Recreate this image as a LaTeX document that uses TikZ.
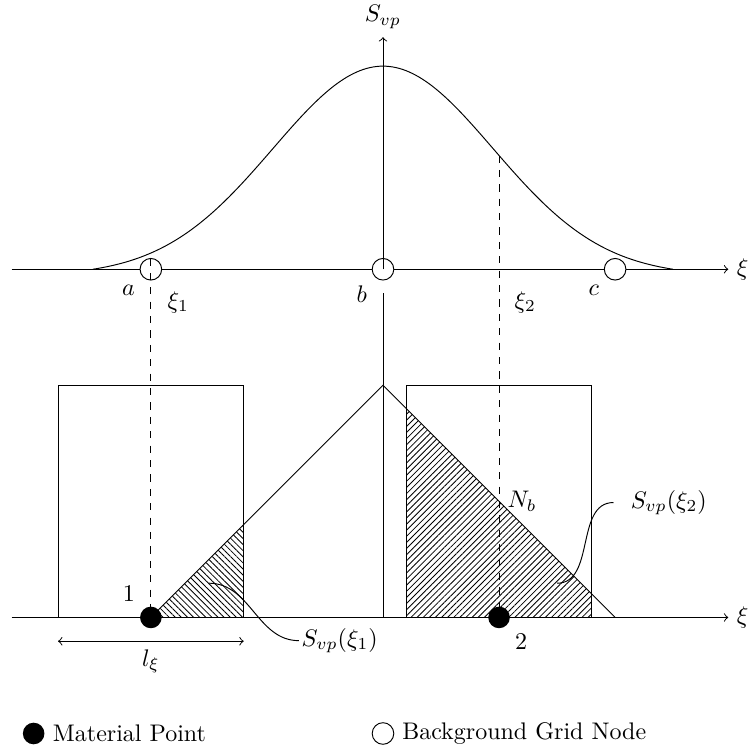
\documentclass[tikz,border=0pt]{standalone}
\usepackage{amsmath}
\usepackage{tikz}
\usetikzlibrary{arrows.meta,positioning,patterns.meta}
\tikzset{
    gridnode/.style={draw, circle, fill=white, minimum size=9pt,
    inner sep=0pt, outer sep=0pt},
    matpoint/.style={circle, fill=black, minimum size=9pt,
    inner sep=0pt, outer sep=0pt},
    leaderlbl/.style={anchor=west, inner sep=1pt},
    hatchleft/.style={pattern={Lines[angle=-45, distance=1.8pt, line width=0.35pt]}},
    hatchright/.style={pattern={Lines[angle=45, distance=1.8pt, line width=0.35pt]}},
}

\begin{document}
\begin{tikzpicture}[
            x=0.85cm, y=0.85cm,
            >=to,
            node distance=0pt
        ]
            \useasboundingbox (-6.60,-2.24) rectangle (6.29,10.64);
            % hatched areas
            \fill[hatchleft] (-4,0) -- (-2.4,1.6) -- (-2.4,0) -- cycle;
            \fill[hatchright] (0.4,0) -- (0.4,3.6) -- (3.6,0.4) -- (3.6,0) -- cycle;
            % axes
            \coordinate (tl) at (-6.4,6);
            \coordinate (tr) at (5.95,6);
            \coordinate (bl) at (-6.4,0);
            \coordinate (br) at (5.95,0);
            \draw[->] (tl) -- (tr);
            \draw[->] (bl) -- (br);
            \node[right=of tr] {$\xi$};
            \node[right=of br] {$\xi$};
            % shape function
            \draw plot[domain=-5:5, samples=90, smooth]
                (\x, {6+3.5*(exp(-((\x)*(\x))/7.2)-0.031)/0.969});
            % grid nodes
            \node[gridnode] (na) at (-4,6) {};
            \node[gridnode] (nb) at (0,6) {};
            \node[gridnode] (nc) at (4,6) {};
            \node[below left=of na] {$a$};
            \node[below left=of nb] {$b$};
            \node[below left=of nc] {$c$};
            \coordinate (svp) at (0,10);
            \draw[->] (nb.center) -- (svp);
            \node[above=of svp] {$S_{vp}$};
            % cells
            \draw (-5.6,0) -- (-5.6,4) -- (-2.4,4) -- (-2.4,0);
            \draw (0.4,0) -- (0.4,4) -- (3.6,4) -- (3.6,0);
            % hat function
            \coordinate (apex) at (0,4);
            \coordinate (hend) at (4,0);
            \coordinate (vtop) at (0,5.59);
            \coordinate (vbot) at (0,0);
            \draw (vtop) -- (vbot);
            \node[matpoint] (m1) at (-4,0) {};
            \node[matpoint] (m2) at (2,0) {};
            \node[above left=of m1] {1};
            \node[below right=of m2] {2};
            \draw (m1) -- (apex) -- (hend);
            % particle positions
            \coordinate (c2) at (2,7.96);
            \draw[dashed] (na.north) -- (m1);
            \draw[dashed] (c2) -- (m2);
            \node at (-3.53,5.43) {$\xi_1$};
            \node at (2.45,5.43) {$\xi_2$};
            \coordinate (nbpt) at (2,2);
            \node[right=of nbpt] {$N_b$};
            % leaders
            \coordinate (h1) at (-3.0,0.59);
            \coordinate (h2) at (3.0,0.59);
            \node[leaderlbl] (s1) at (-1.45,-0.40) {$S_{vp}(\xi_1)$};
            \node[leaderlbl] (s2) at (4.22,1.98) {$S_{vp}(\xi_2)$};
            \draw (h1) to[out=0,in=180] (s1.west);
            \draw (h2) to[out=0,in=180] ([xshift=-6pt]s2.west);
            % cell length
            \coordinate (ll) at (-5.6,-0.41);
            \coordinate (lr) at (-2.4,-0.41);
            \draw[<->] (ll) -- node[below] {$l_\xi$} (lr);
            % legend
            \node[matpoint] (lgm) at (-6.02,-2) {};
            \node[right=of lgm] {Material Point};
            \node[gridnode] (lgg) at (0,-2) {};
            \node[right=of lgg] {Background Grid Node};
        \end{tikzpicture}
\end{document}
